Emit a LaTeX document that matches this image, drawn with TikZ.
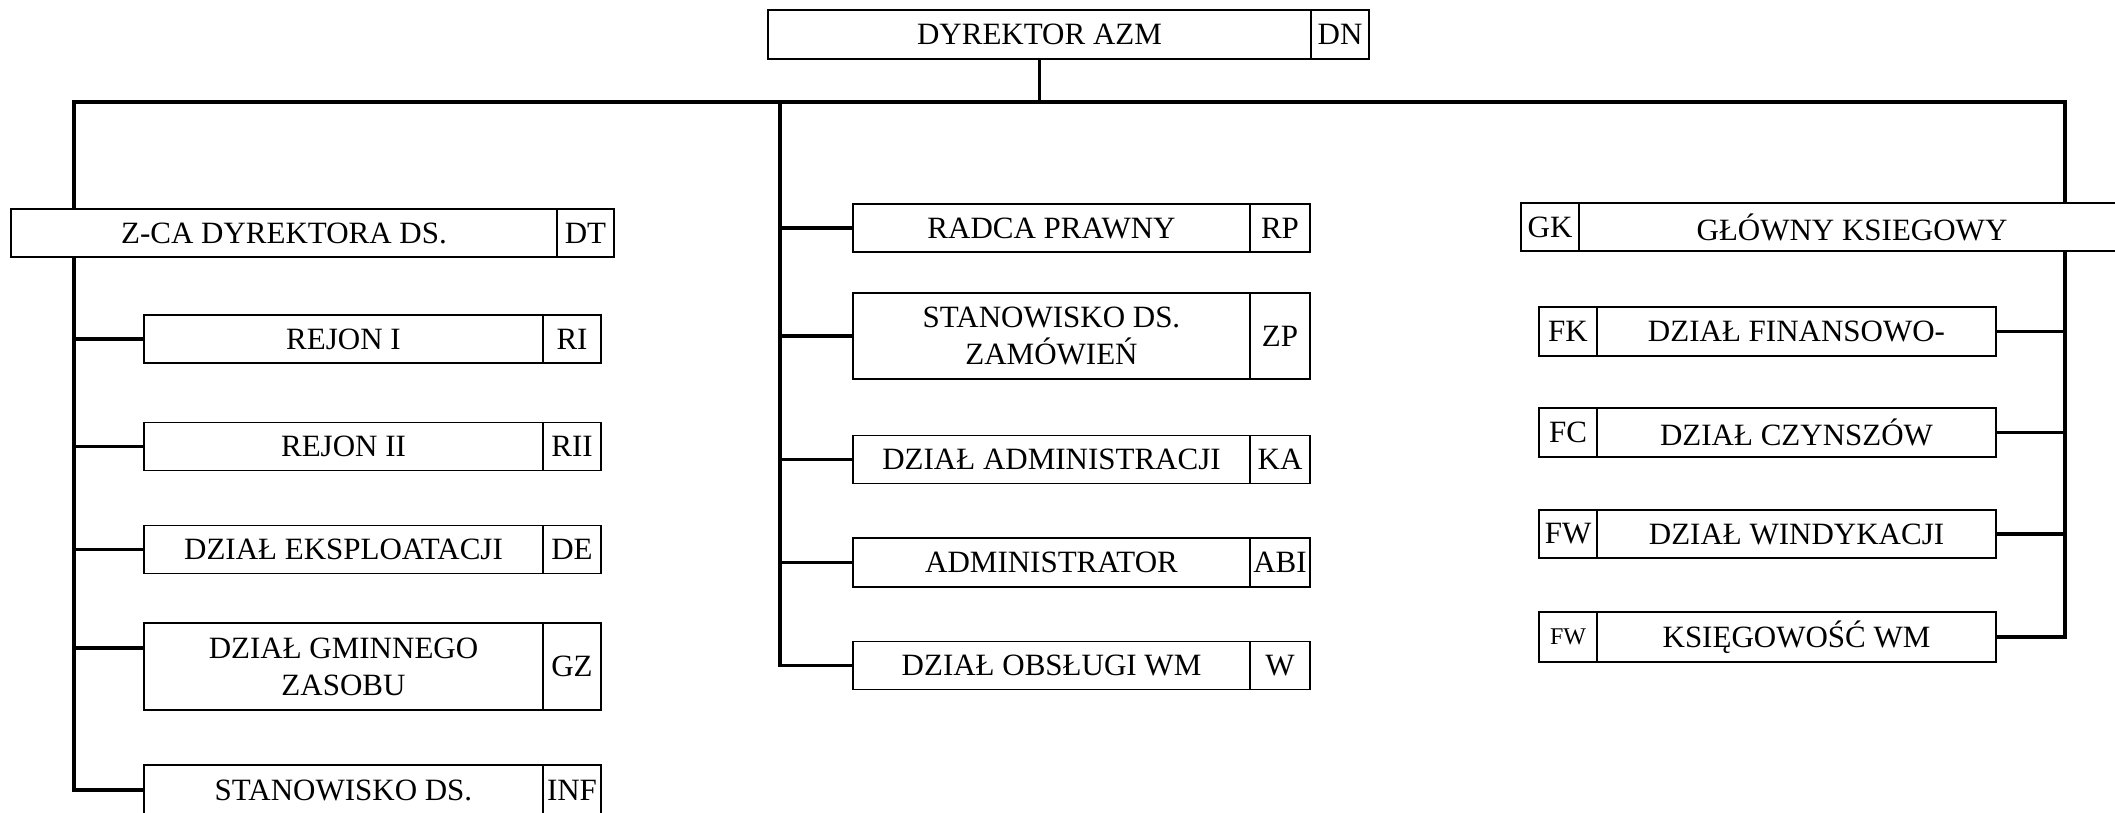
\documentclass[tikz,border=0pt]{standalone}
\usepackage{fontspec}
\setmainfont{Liberation Serif}
\usetikzlibrary{positioning, calc, backgrounds}

\newcommand{\dzfont}{\fontsize{31}{37}\selectfont}

\tikzset{
    dzial/.style={draw, fill=white, line width=1.8pt, inner sep=0pt, outer sep=0pt,
                  align=center, font=\dzfont, minimum height=48pt},
    kod/.style={dzial, minimum width=58pt},
    linia/.style={line width=3.8pt}
}

\begin{document}
\begin{tikzpicture}[x=1pt, y=-1pt, node distance=0pt]
    \useasboundingbox (0,0) rectangle (2115,813);

    \node[dzial, minimum width=543pt, minimum height=49pt] (dyr) at (1039.5,34.5) {DYREKTOR AZM};
    \node[kod, right=of dyr, minimum height=49pt] (dn) {DN};

    % pion lewy
    \node[dzial, minimum width=546pt] (zca) at (284,233) {Z-CA DYREKTORA DS.};
    \node[kod, right=of zca, minimum width=57pt] (dt) {DT};
    \node[dzial, minimum width=399pt] (rej1) at (343.5,339) {REJON I};
    \node[kod, right=of rej1] (ri) {RI};
    \node[dzial, minimum width=399pt] (rej2) at (343.5,446.5) {REJON II};
    \node[kod, right=of rej2] (rii) {RII};
    \node[dzial, minimum width=399pt] (eksp) at (343.5,549.5) {DZIAŁ EKSPLOATACJI};
    \node[kod, right=of eksp] (de) {DE};
    \node[dzial, minimum width=399pt, minimum height=87pt] (gmin) at (343.5,666.5) {DZIAŁ GMINNEGO\\ZASOBU};
    \node[kod, right=of gmin, minimum height=87pt] (gz) {GZ};
    \node[dzial, minimum width=399pt, minimum height=50pt] (stinf) at (343.5,790) {STANOWISKO DS.};
    \node[kod, right=of stinf, minimum height=50pt] (inf) {INF};

    % pion srodkowy
    \node[dzial, minimum width=397pt] (radca) at (1051.5,228) {RADCA PRAWNY};
    \node[kod, right=of radca, minimum width=60pt] (rp) {RP};
    \node[dzial, minimum width=397pt, minimum height=86pt] (zamow) at (1051.5,336) {STANOWISKO DS.\\ZAMÓWIEŃ};
    \node[kod, right=of zamow, minimum width=60pt, minimum height=86pt] (zp) {ZP};
    \node[dzial, minimum width=397pt] (admin) at (1051.5,459.5) {DZIAŁ ADMINISTRACJI};
    \node[kod, right=of admin, minimum width=60pt] (ka) {KA};
    \node[dzial, minimum width=397pt, minimum height=49pt] (adm) at (1051.5,562.5) {ADMINISTRATOR};
    \node[kod, right=of adm, minimum width=60pt, minimum height=49pt] (abi) {ABI};
    \node[dzial, minimum width=397pt] (obsl) at (1051.5,665.5) {DZIAŁ OBSŁUGI WM};
    \node[kod, right=of obsl, minimum width=60pt] (w) {W};

    % pion finansowy
    \node[dzial, minimum width=546pt] (glow) at (1852,227) {GŁÓWNY KSIEGOWY};
    \node[kod, left=of glow] (gk) {GK};
    \node[dzial, minimum width=399pt, minimum height=49pt] (finans) at (1796.5,331.5) {DZIAŁ FINANSOWO-};
    \node[kod, left=of finans, minimum height=49pt] (fk) {FK};
    \node[dzial, minimum width=399pt, minimum height=49pt] (czynsz) at (1796.5,432.5) {DZIAŁ CZYNSZÓW};
    \node[kod, left=of czynsz, minimum height=49pt] (fc) {FC};
    \node[dzial, minimum width=399pt] (windyk) at (1796.5,534) {DZIAŁ WINDYKACJI};
    \node[kod, left=of windyk] (fw) {FW};
    \node[dzial, minimum width=399pt, minimum height=50pt] (ksieg) at (1796.5,637) {KSIĘGOWOŚĆ WM};
    \node[kod, left=of ksieg, minimum height=50pt, font=\fontsize{24}{28}\selectfont] (fwm) {FW};

    \coordinate (lewa) at (74,102);
    \coordinate (srodek) at (780,102);
    \coordinate (prawa) at (2065,102);
    \coordinate (gminwe) at ([yshift=18.5pt]gmin.west);

    \begin{scope}[on background layer]
        \draw[linia] (stinf.west) -| (lewa) -- (prawa) |- (ksieg.east);
        \draw[linia] (dyr.south) -- (dyr.south |- lewa);
        \draw[linia] (srodek) |- (obsl.west);
        \path[linia]
        (lewa |- rej1.west) edge (rej1.west)
        (lewa |- rej2.west) edge (rej2.west)
        (lewa |- eksp.west) edge (eksp.west)
        (lewa |- gminwe) edge (gminwe)
        (srodek |- radca.west) edge (radca.west)
        (srodek |- zamow.west) edge (zamow.west)
        (srodek |- admin.west) edge (admin.west)
        (srodek |- adm.west) edge (adm.west)
        (prawa |- finans.east) edge (finans.east)
        (prawa |- czynsz.east) edge (czynsz.east)
        (prawa |- windyk.east) edge (windyk.east);
    \end{scope}
\end{tikzpicture}
\end{document}
